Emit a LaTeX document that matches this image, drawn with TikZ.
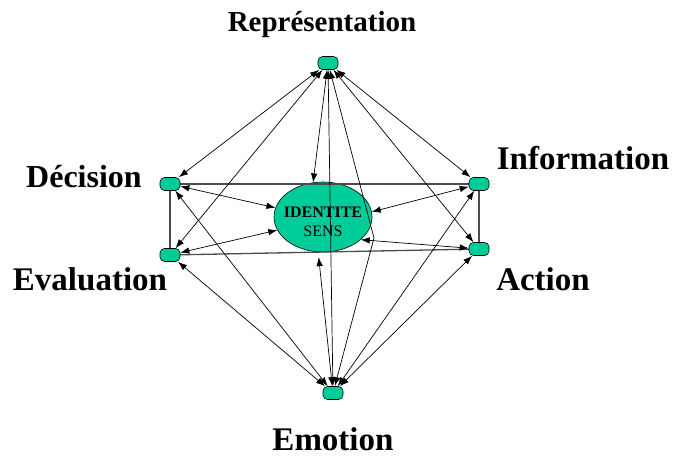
\documentclass[tikz,border=0pt]{standalone}
\usepackage{fontspec}
\setmainfont{Liberation Serif}
\usetikzlibrary{shapes.misc,shapes.geometric,arrows.meta}
\definecolor{vert}{HTML}{00CC99}
\tikzset{
  pt/.style={rectangle, rounded corners=4.5pt,
    draw=black, line width=0.6pt, fill=vert, minimum width=20pt, minimum height=13pt, inner sep=0pt},
  lbl/.style={font=\bfseries\fontsize{33}{36}\selectfont, anchor=base, inner sep=0pt},
  link/.style={draw=black, line width=0.7pt, {Latex[length=9pt,width=6.5pt]}-{Latex[length=9pt,width=6.5pt]}},
  frame/.style={draw=gray!60!black, line width=1.3pt}
}
\begin{document}
\begin{tikzpicture}[x=1pt,y=-1pt]
\useasboundingbox (0,0) rectangle (674,457);
% ellipse
\node[ellipse, draw=black, line width=0.6pt, fill=vert, minimum width=98pt, minimum height=70pt, inner sep=0pt] (ell) at (323,217) {};
\node[font=\bfseries\fontsize{16}{18}\selectfont, inner sep=0pt] (t1) at (323,212) {IDENTITE};
\node[font=\fontsize{16}{18}\selectfont, inner sep=0pt] (t2) at (323,231) {SENS};
% node positions
\coordinate (cR) at (328,63);
\coordinate (cD) at (170,184);
\coordinate (cV) at (170,255);
\coordinate (cI) at (479,184);
\coordinate (cA) at (479,249);
\coordinate (cE) at (333,393);
\coordinate (kink) at (374,238);
% frame lines
\draw[frame] (cD) -- (cI);
\draw[frame] (cV) -- (cA);
\draw[frame] (cD) -- (cV);
\draw[frame] (cI) -- (cA);
% small nodes
\node[pt] (R) at (cR) {};
\node[pt] (D) at (cD) {};
\node[pt] (V) at (cV) {};
\node[pt] (I) at (cI) {};
\node[pt] (A) at (cA) {};
\node[pt] (E) at (cE) {};
% links
\draw[link] (R) -- (D);
\draw[link] (R) -- (V);
\draw[link] (R) -- (ell.106);
\draw[link] (R) -- (E);
\draw[link] (R) -- (A);
\draw[link] (R) -- (I);
\draw[link] (R) -- (kink) -- (E);
\draw[link] (D) -- (ell.169);
\draw[link] (D) -- (E);
\draw[link] (V) -- (ell.196);
\draw[link] (V) -- (E);
\draw[link] (I) -- (ell.6);
\draw[link] (I) -- (E);
\draw[link] (A) -- (ell.329);
\draw[link] (A) -- (E);
\draw[link] (ell.263) ++(0,5) coordinate (eb) (eb) -- (E);
% labels
\node[lbl, font=\bfseries\fontsize{29}{33}\selectfont] (lR) at (322,32) {Représentation};
\node[lbl, font=\bfseries\fontsize{32}{36}\selectfont] (lD) at (84,188) {Décision};
\node[lbl] (lI) at (583,170) {Information};
\node[lbl] (lV) at (90,290) {Evaluation};
\node[lbl] (lA) at (543,290) {Action};
\node[lbl] (lE) at (333,450) {Emotion};
\end{tikzpicture}
\end{document}
